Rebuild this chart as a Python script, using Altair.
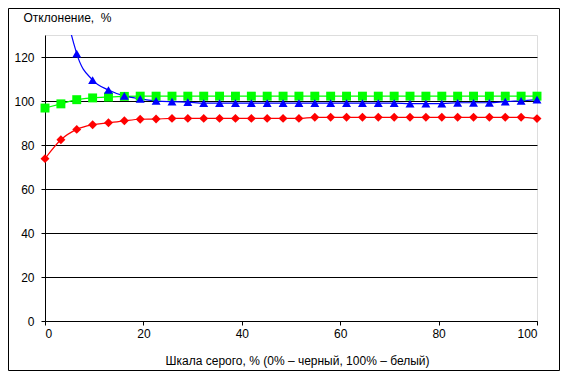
import altair as alt
import pandas as pd

x_vals = [0, 3.23, 6.45, 9.68, 12.9, 16.13, 19.35, 22.58, 25.81, 29.03, 32.26,
          35.48, 38.71, 41.94, 45.16, 48.39, 51.61, 54.84, 58.06, 61.29, 64.52,
          67.74, 70.97, 74.19, 77.42, 80.65, 83.87, 87.1, 90.32, 93.55, 96.77, 100]

red = [73.8, 82.4, 87.1, 89.2, 90.1, 91.0, 91.7, 91.8, 92.1, 92.1, 92.1,
       92.1, 92.1, 92.1, 92.1, 92.1, 92.1, 92.6, 92.6, 92.6, 92.6,
       92.6, 92.6, 92.6, 92.6, 92.6, 92.6, 92.6, 92.6, 92.6, 92.6, 92.0]

green = [96.8, 98.7, 100.6, 101.4, 101.8, 102.1, 102.2, 102.2, 102.2, 102.2, 102.2,
         102.2, 102.2, 102.2, 102.2, 102.2, 102.2, 102.2, 102.2, 102.2, 102.2,
         102.2, 102.2, 102.2, 102.2, 102.2, 102.2, 102.2, 102.2, 102.2, 102.2, 102.2]

blue = [260, 160, 121.5, 109.5, 105.0, 102.3, 101.0, 100.1, 99.7, 99.5, 99.0,
        99.0, 99.0, 99.0, 99.0, 99.0, 99.0, 99.0, 99.0, 99.0, 99.0,
        99.0, 99.0, 98.8, 98.8, 98.8, 99.2, 99.2, 99.2, 99.7, 100.1, 100.6]

series_names = ["red", "green", "blue"]
series_colors = ["#FF0000", "#00FF00", "#0000FF"]
series_shapes = ["diamond", "square", "triangle-up"]

rows = []
for name, vals in zip(series_names, [red, green, blue]):
    for i, (xv, yv) in enumerate(zip(x_vals, vals)):
        rows.append({"series": name, "x": xv, "y": yv, "order": i})
df = pd.DataFrame(rows)

FONT = "Liberation Sans"
W, H = 492, 286

xenc = alt.X("x:Q", scale=alt.Scale(domain=[0, 100], nice=False),
             axis=alt.Axis(values=[0, 20, 40, 60, 80, 100], grid=False,
                           title="Шкала серого, % (0% – черный, 100% – белый)",
                           tickSize=4, labelPadding=3, labelFontSize=12,
                           titleFontSize=12, titleFontWeight="normal",
                           titleX=252, titleY=39, titleBaseline="middle",
                           domainColor="black", tickColor="black",
                           labelColor="black", titleColor="black"))
yenc = alt.Y("y:Q", scale=alt.Scale(domain=[0, 130], nice=False),
             axis=alt.Axis(values=[0, 20, 40, 60, 80, 100, 120], grid=True,
                           gridColor="black", gridOpacity=1, gridWidth=1,
                           title="Отклонение,\u00a0\u00a0%", titleAngle=0,
                           titleX=-22, titleY=-18, titleAlign="left",
                           titleBaseline="middle", titleFontSize=12,
                           titleFontWeight="normal",
                           tickSize=4, labelPadding=7, labelFontSize=12,
                           domainColor="black", tickColor="black",
                           labelColor="black", titleColor="black"))
color = alt.Color("series:N", scale=alt.Scale(domain=series_names, range=series_colors), legend=None)
shape = alt.Shape("series:N", scale=alt.Scale(domain=series_names, range=series_shapes), legend=None)

base = alt.Chart(df)
lines = base.mark_line(interpolate="monotone", strokeWidth=1.2, clip=True).encode(
    x=xenc, y=yenc, color=color, detail="series:N", order="order:Q")
points = base.transform_filter(alt.datum.y <= 130).mark_point(
    filled=True, size=80, opacity=1).encode(
    x="x:Q", y="y:Q", color=color, shape=shape)

frame = alt.Chart(alt.Data(values=[{"a": 1}])).mark_rect(
    fill=None, stroke="black", strokeWidth=1).encode(
    x=alt.value(-36.5), x2=alt.value(W + 22.5),
    y=alt.value(-26.5), y2=alt.value(H + 49.5))

chart = alt.layer(lines, points, frame).properties(
    width=W, height=H,
    autosize=alt.AutoSizeParams(type="none"),
    padding={"left": 37, "top": 27, "right": 23, "bottom": 50},
    background="white",
).configure_view(stroke="black", strokeWidth=1).configure(font=FONT)

chart.save("out.html", embed_options={"renderer": "svg", "actions": False})
